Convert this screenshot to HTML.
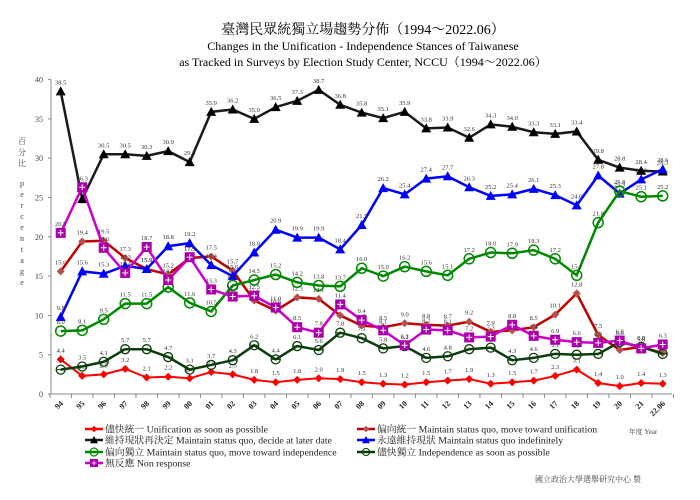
<!DOCTYPE html>
<html><head><meta charset="utf-8"><style>
body{margin:0;background:#fff;width:700px;height:495px;overflow:hidden}
svg{font-family:"Liberation Serif","Noto Serif CJK SC","Noto Sans CJK TC",serif}
</style></head><body>
<svg id="c" width="700" height="495">
<text x="363" y="34" text-anchor="middle" font-size="14">臺灣民眾統獨立場趨勢分佈（1994～2022.06）</text>
<text x="363" y="50" text-anchor="middle" font-size="12">Changes in the Unification - Independence Stances of Taiwanese</text>
<text x="363" y="66" text-anchor="middle" font-size="12">as Tracked in Surveys by Election Study Center, NCCU（1994～2022.06）</text>
<g font-size="8" fill="#444" text-anchor="middle">
<text x="22" y="144">百</text><text x="22" y="155">分</text><text x="22" y="166">比</text>
<text x="22" y="186">p</text><text x="22" y="197">e</text><text x="22" y="208">r</text><text x="22" y="219">c</text><text x="22" y="230">e</text><text x="22" y="241">n</text><text x="22" y="252">t</text><text x="22" y="263">a</text><text x="22" y="274">g</text><text x="22" y="285">e</text>
</g>
<text x="643" y="434" text-anchor="middle" font-size="7" fill="#444">年度 Year</text>
<text x="588" y="482" text-anchor="middle" font-size="8" fill="#444">國立政治大學選舉研究中心 製</text>
<g id="axes"></g><g id="plot"></g><g id="legend"></g>
</svg>
<script>
const years=["94","95","96","97","98","99","00","01","02","03","04","05","06","07","08","09","10","11","12","13","14","15","16","17","18","19","20","21","22.06"];
const yTicks=[0,5,10,15,20,25,30,35,40];
const unifyASAP=[4.4,2.3,2.5,3.2,2.1,2.2,2.0,2.8,2.5,1.8,1.5,1.8,2.0,1.9,1.5,1.3,1.2,1.5,1.7,1.9,1.3,1.5,1.7,2.3,3.1,1.4,1.0,1.4,1.3];
const towardUnify=[15.6,19.4,19.5,17.3,15.9,15.2,17.3,17.5,15.7,11.9,10.6,12.3,12.1,10.0,8.7,8.5,9.0,8.8,8.7,9.2,7.9,8.1,8.5,10.1,12.8,7.5,5.6,6.0,5.2];
const decideLater=[38.5,24.8,30.5,30.5,30.3,30.9,29.5,35.9,36.2,35.0,36.5,37.3,38.7,36.8,35.8,35.1,35.9,33.8,33.9,32.6,34.3,34.0,33.3,33.1,33.4,29.8,28.8,28.4,28.3];
const indefinitely=[9.8,15.6,15.3,16.3,15.9,18.8,19.2,16.4,15.0,18.0,20.9,19.9,19.9,18.4,21.5,26.2,25.4,27.4,27.7,26.3,25.2,25.4,26.1,25.3,24.0,27.8,25.5,27.3,28.6];
const towardIndep=[8.0,8.1,9.5,11.5,11.5,13.6,11.6,10.5,13.8,14.5,15.2,14.2,13.8,13.7,16.0,15.0,16.2,15.6,15.1,17.2,18.0,17.9,18.3,17.2,15.1,21.8,25.8,25.1,25.2];
const indepASAP=[3.1,3.5,4.1,5.7,5.7,4.7,3.1,3.7,4.3,6.2,4.4,6.1,5.6,7.8,7.1,5.8,6.1,4.6,4.8,5.7,5.9,4.3,4.6,5.1,5.0,5.1,6.6,6.0,5.1];
const nonResponse=[20.5,26.3,18.6,15.4,18.7,14.5,17.4,13.3,12.4,12.5,11.0,8.5,7.8,11.4,9.4,8.1,6.2,8.2,8.1,7.2,7.3,8.8,7.4,6.9,6.6,6.5,6.8,5.8,6.3];
const legendLabels=["儘快統一 Unification as soon as possible","偏向統一 Maintain status quo, move toward unification","維持現狀再決定 Maintain status quo, decide at later date","永遠維持現狀 Maintain status quo indefinitely","偏向獨立 Maintain status quo, move toward independence","儘快獨立 Independence as soon as possible","無反應 Non response"];

const NS="http://www.w3.org/2000/svg";
const X0=60.7,DX=21.5,Y0=394,PY=7.86,AXL=51,AXR=672;
const xs=i=>X0+i*DX, ys=v=>Y0-v*PY;
function mk(tag,at,par){const e=document.createElementNS(NS,tag);for(const k in at)e.setAttribute(k,at[k]);par.appendChild(e);return e;}
const axes=document.getElementById('axes'),plot=document.getElementById('plot'),leg=document.getElementById('legend');
let a=mk('line',{x1:AXL,y1:ys(40),x2:AXL,y2:Y0,stroke:'#888','stroke-width':1},axes);


a=mk('line',{x1:AXL,y1:Y0,x2:AXR,y2:Y0,stroke:'#888','stroke-width':1},axes);


yTicks.forEach(t=>{
  mk('line',{x1:AXL-3,y1:ys(t),x2:AXL,y2:ys(t),stroke:'#888'},axes);
  const e=mk('text',{x:AXL-8,y:ys(t)+3,'text-anchor':'end','font-size':8,fill:'#444'},axes);e.textContent=t;
  
  
});
years.forEach((y,i)=>{
  mk('line',{x1:xs(i)-DX/2,y1:Y0,x2:xs(i)-DX/2,y2:Y0+4,stroke:'#888'},axes);
  const e=mk('text',{x:0,y:0,'text-anchor':'end','font-size':8,'font-weight':'bold',fill:'#222',transform:`translate(${xs(i)+3},${Y0+10}) rotate(-45)`},axes);e.textContent=y;
  
  
});
mk('line',{x1:xs(28)+DX/2,y1:Y0,x2:xs(28)+DX/2,y2:Y0+4,stroke:'#888'},axes);

function marker(type,x,y,col,par){
  if(type==='diamond')return mk('polygon',{points:`${x},${y-4} ${x+4},${y} ${x},${y+4} ${x-4},${y}`,fill:col},par);
  if(type==='tri')return mk('polygon',{points:`${x},${y-5} ${x+5},${y+4} ${x-5},${y+4}`,fill:'#000'},par);
  if(type==='btri')return mk('polygon',{points:`${x},${y-5} ${x+5},${y+4} ${x-5},${y+4}`,fill:col},par);
  if(type==='circle')return mk('circle',{cx:x,cy:y,r:5,fill:'none',stroke:col,'stroke-width':1.5},par);
  if(type==='dcircle'){const g=mk('g',{},par);mk('circle',{cx:x,cy:y,r:4.5,fill:'none',stroke:col,'stroke-width':1.3},g);mk('line',{x1:x-4,y1:y,x2:x+4,y2:y,stroke:col,'stroke-width':1},g);return g;}
  if(type==='square'){const g=mk('g',{},par);mk('rect',{x:x-5,y:y-5,width:10,height:10,fill:col},g);mk('path',{d:`M${x-3} ${y}H${x+3}M${x} ${y-3}V${y+3}`,stroke:'#fff','stroke-width':1},g);return g;}
}
const series=[
 {d:unifyASAP,c:'#ff0000',m:'diamond',n:'unification-asap',w:2},
 {d:towardUnify,c:'#c00000',mc:'#b5504a',m:'diamond',n:'toward-unification',w:2.5},
 {d:decideLater,c:'#1a1a1a',m:'tri',n:'decide-later',w:2.5},
 {d:indefinitely,c:'#0000ff',m:'btri',n:'status-quo-indefinitely',w:2.5},
 {d:towardIndep,c:'#008800',m:'circle',n:'toward-independence',w:2.5},
 {d:indepASAP,c:'#0b3d0b',m:'dcircle',n:'independence-asap',w:2.5},
 {d:nonResponse,c:'#cc00cc',mc:'#aa00aa',m:'square',n:'non-response',w:2.5}
];
series.forEach(s=>{
  const g=mk('g',{},plot);
  
  
  const l=mk('polyline',{points:s.d.map((v,i)=>xs(i)+','+ys(v)).join(' '),fill:'none',stroke:s.c,'stroke-width':s.w},g);
  
  
  s.d.forEach((v,i)=>{
    const m=marker(s.m,xs(i),ys(v),s.mc||s.c,g);
    
    
    const t=mk('text',{x:xs(i),y:ys(v)-7,'text-anchor':'middle','font-size':6.5,fill:'#333'},g);
    t.textContent=v.toFixed(1);
    
    
  });
});
const lpos=[[94,429],[366,429],[94,440],[366,440],[94,452],[366,452],[94,463]];
series.forEach((s,i)=>{
  const [x,y]=lpos[i];
  const g=mk('g',{},leg);
  
  
  mk('line',{x1:x-9,y1:y,x2:x+9,y2:y,stroke:s.c,'stroke-width':2.5},g);
  const mm=marker(s.m,x,y,s.mc||s.c,g);
  mm.setAttribute('transform',`translate(${x},${y}) scale(0.8) translate(${-x},${-y})`);
  const t=mk('text',{x:x+11,y:y+3.5,'font-size':9.8,fill:'#222'},g);
  t.textContent=legendLabels[i];
});
</script>
</body></html>
